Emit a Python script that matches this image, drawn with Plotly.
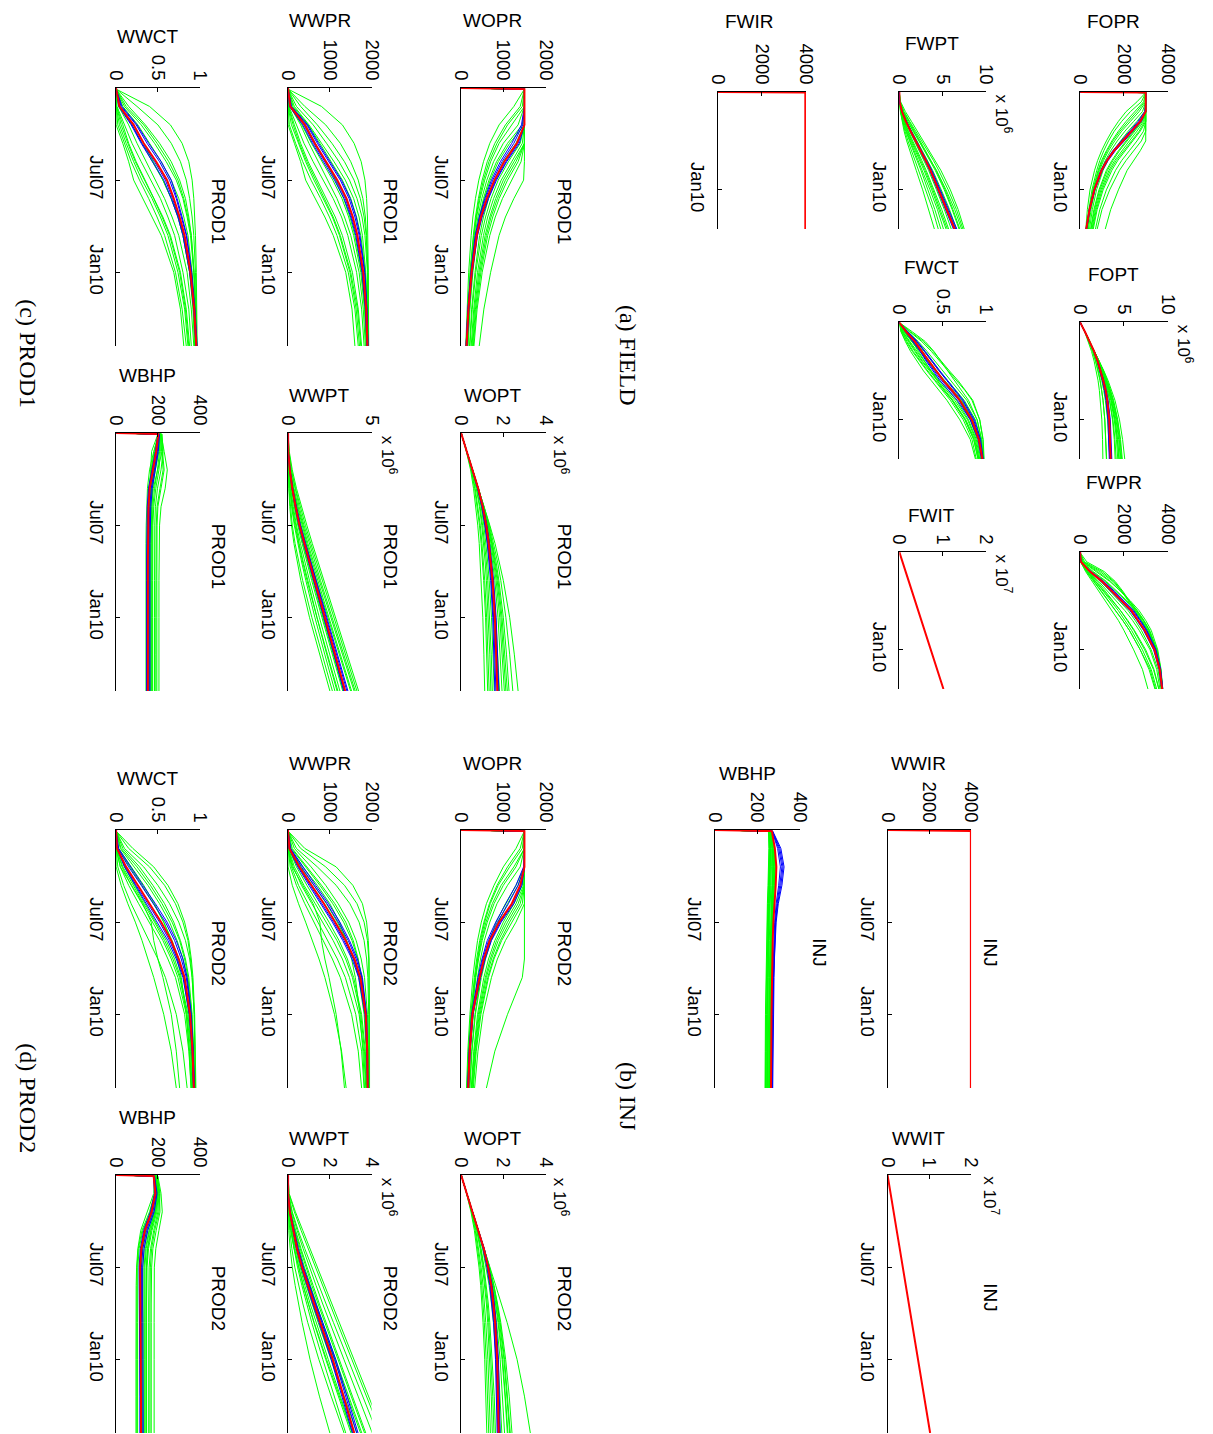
import plotly.graph_objects as go

W, H = 1213, 1434          # window / figure size
OFF = 0                    # body margin removed through post_script
FW, FH = W - OFF, H - OFF

# time grid (decimal years)
T = [2005.0, 2005.03, 2005.5, 2006.0, 2006.5, 2007.0, 2007.5, 2008.0, 2008.5, 2009.0, 2010.0, 2011.0, 2012.0]

# ---------------- (a) FIELD ----------------
FOPR_RED = [0, 3000, 3000, 3000, 2750, 2350, 1950, 1550, 1230, 980, 650, 430, 280]
FOPR_BLUE = [
    [0, 3000, 3000, 2950, 2650, 2250, 1870, 1490, 1190, 950, 630, 415, 270],
    [0, 3000, 3000, 3000, 2800, 2420, 2020, 1610, 1280, 1020, 680, 450, 295],
    [0, 3000, 3000, 3000, 2700, 2300, 1900, 1520, 1210, 960, 640, 420, 275],
    [0, 3000, 3000, 2980, 2780, 2400, 2000, 1580, 1250, 1000, 665, 440, 290],
]
FOPR_GREEN = [
    [0, 3000, 2600, 2100, 1750, 1450, 1200, 980, 800, 660, 450, 330, 260],
    [0, 3000, 2900, 2500, 2100, 1750, 1450, 1200, 980, 820, 580, 420, 320],
    [0, 3000, 3000, 2850, 2450, 2050, 1700, 1400, 1150, 950, 680, 500, 380],
    [0, 3000, 3000, 3000, 2800, 2450, 2100, 1750, 1450, 1200, 860, 630, 480],
    [0, 3000, 3000, 3000, 3000, 2750, 2400, 2050, 1720, 1450, 1050, 780, 600],
    [0, 3000, 3000, 3000, 3000, 3000, 2800, 2450, 2100, 1800, 1350, 1000, 780],
    [0, 3000, 3000, 3000, 3000, 3000, 3000, 2750, 2450, 2150, 1750, 1400, 1150],
    [0, 3000, 3000, 2950, 2600, 2200, 1850, 1530, 1260, 1050, 750, 560, 430],
    [0, 3000, 3000, 3000, 2900, 2600, 2250, 1900, 1580, 1320, 950, 700, 540],
    [0, 3000, 2800, 2300, 1900, 1560, 1300, 1080, 900, 760, 540, 400, 310],
    [0, 3000, 3000, 2700, 2300, 1900, 1580, 1300, 1070, 890, 620, 450, 340],
    [0, 3000, 3000, 3000, 2950, 2700, 2350, 1980, 1650, 1380, 1000, 740, 570],
    [0, 3000, 3000, 3000, 2850, 2500, 2150, 1800, 1500, 1250, 900, 660, 500],
    [0, 3000, 2950, 2600, 2200, 1820, 1500, 1240, 1020, 850, 600, 440, 330],
    [0, 3000, 3000, 3000, 3000, 2900, 2600, 2250, 1900, 1620, 1200, 900, 700],
]

FOPT_RED = [0, 0.01, 0.55, 1.1, 1.6, 2.0, 2.35, 2.65, 2.92, 3.1, 3.33, 3.42, 3.48]
FOPT_BLUE = [
    [0, 0.01, 0.55, 1.1, 1.58, 1.97, 2.3, 2.58, 2.83, 3.0, 3.22, 3.32, 3.38],
    [0, 0.01, 0.55, 1.1, 1.61, 2.03, 2.4, 2.72, 3.0, 3.2, 3.45, 3.56, 3.62],
    [0, 0.01, 0.55, 1.1, 1.6, 2.01, 2.37, 2.68, 2.95, 3.14, 3.38, 3.48, 3.54],
    [0, 0.01, 0.55, 1.09, 1.57, 1.95, 2.27, 2.54, 2.78, 2.96, 3.18, 3.28, 3.33],
]
FOPT_GREEN = [
    [0, 0.01, 0.52, 0.95, 1.3, 1.6, 1.85, 2.05, 2.2, 2.32, 2.48, 2.56, 2.6],
    [0, 0.01, 0.55, 1.05, 1.45, 1.8, 2.08, 2.3, 2.48, 2.62, 2.82, 2.94, 3.0],
    [0, 0.01, 0.55, 1.1, 1.6, 2.05, 2.45, 2.8, 3.1, 3.35, 3.7, 3.9, 4.0],
    [0, 0.01, 0.55, 1.1, 1.65, 2.15, 2.6, 3.0, 3.35, 3.65, 4.1, 4.4, 4.6],
    [0, 0.01, 0.55, 1.1, 1.65, 2.2, 2.72, 3.2, 3.62, 3.98, 4.5, 4.85, 5.1],
    [0, 0.01, 0.55, 1.1, 1.62, 2.1, 2.52, 2.9, 3.22, 3.5, 3.9, 4.15, 4.3],
    [0, 0.01, 0.55, 1.08, 1.55, 1.95, 2.28, 2.56, 2.8, 3.0, 3.28, 3.45, 3.55],
    [0, 0.01, 0.55, 1.1, 1.63, 2.12, 2.56, 2.95, 3.28, 3.56, 3.98, 4.25, 4.42],
    [0, 0.01, 0.54, 1.02, 1.42, 1.76, 2.04, 2.27, 2.46, 2.61, 2.82, 2.95, 3.03],
    [0, 0.01, 0.55, 1.1, 1.65, 2.18, 2.68, 3.12, 3.5, 3.82, 4.3, 4.62, 4.82],
    [0, 0.01, 0.55, 1.1, 1.64, 2.14, 2.58, 2.97, 3.3, 3.58, 4.0, 4.28, 4.48],
    [0, 0.01, 0.55, 1.1, 1.62, 2.08, 2.48, 2.83, 3.13, 3.38, 3.75, 3.98, 4.12],
    [0, 0.01, 0.55, 1.06, 1.5, 1.88, 2.2, 2.47, 2.7, 2.88, 3.14, 3.3, 3.4],
    [0, 0.01, 0.55, 1.1, 1.65, 2.17, 2.65, 3.08, 3.45, 3.77, 4.25, 4.56, 4.75],
    [0, 0.01, 0.55, 1.1, 1.64, 2.16, 2.63, 3.05, 3.41, 3.72, 4.18, 4.48, 4.66],
]

FWPR_RED = [0, 0, 30, 450, 1000, 1450, 1900, 2350, 2650, 2950, 3400, 3640, 3750]
FWPR_BLUE = [
    [0, 0, 30, 480, 1050, 1520, 1980, 2420, 2730, 3020, 3450, 3670, 3770],
    [0, 0, 30, 420, 950, 1400, 1840, 2280, 2600, 2900, 3360, 3610, 3730],
    [0, 0, 30, 500, 1080, 1560, 2020, 2460, 2760, 3050, 3470, 3680, 3780],
    [0, 0, 30, 440, 980, 1430, 1880, 2320, 2630, 2930, 3390, 3630, 3745],
]
FWPR_GREEN = [
    [0, 0, 300, 1100, 1600, 1950, 2250, 2550, 2850, 3100, 3450, 3650, 3750],
    [0, 0, 100, 700, 1350, 1850, 2300, 2700, 3000, 3250, 3550, 3700, 3780],
    [0, 0, 30, 300, 700, 1050, 1400, 1750, 2050, 2350, 2850, 3250, 3500],
    [0, 0, 20, 250, 550, 850, 1150, 1450, 1750, 2000, 2450, 2850, 3100],
    [0, 0, 40, 380, 850, 1250, 1650, 2050, 2400, 2700, 3200, 3500, 3650],
    [0, 0, 60, 550, 1150, 1650, 2100, 2500, 2800, 3100, 3500, 3680, 3760],
    [0, 0, 30, 350, 780, 1150, 1500, 1850, 2150, 2450, 2950, 3350, 3600],
    [0, 0, 80, 600, 1200, 1700, 2150, 2550, 2900, 3150, 3500, 3680, 3770],
    [0, 0, 30, 320, 650, 950, 1300, 1650, 1950, 2250, 2750, 3150, 3420],
    [0, 0, 150, 900, 1500, 1900, 2250, 2600, 2900, 3150, 3480, 3660, 3760],
    [0, 0, 50, 450, 950, 1380, 1800, 2200, 2520, 2800, 3250, 3560, 3700],
    [0, 0, 200, 1000, 1550, 1900, 2200, 2500, 2800, 3050, 3420, 3640, 3750],
    [0, 0, 20, 280, 620, 950, 1300, 1650, 1950, 2250, 2750, 3200, 3450],
    [0, 0, 120, 800, 1400, 1850, 2250, 2620, 2920, 3180, 3520, 3690, 3770],
    [0, 0, 30, 330, 720, 1100, 1480, 1850, 2180, 2480, 3000, 3380, 3600],
]

FWPT_RED = [0, 0, 0.03, 0.3, 0.75, 1.3, 1.9, 2.5, 3.05, 3.6, 4.55, 5.5, 6.4]
FWPT_BLUE = [
    [0, 0, 0.03, 0.32, 0.8, 1.38, 2.0, 2.62, 3.2, 3.77, 4.75, 5.72, 6.65],
    [0, 0, 0.03, 0.28, 0.72, 1.25, 1.83, 2.42, 2.96, 3.5, 4.43, 5.36, 6.25],
    [0, 0, 0.03, 0.31, 0.78, 1.34, 1.95, 2.56, 3.12, 3.68, 4.65, 5.6, 6.52],
    [0, 0, 0.03, 0.29, 0.74, 1.28, 1.87, 2.46, 3.0, 3.55, 4.5, 5.43, 6.33],
]
FWPT_GREEN = [
    [0, 0, 0.15, 0.7, 1.4, 2.1, 2.8, 3.5, 4.15, 4.8, 5.9, 6.8, 7.5],
    [0, 0, 0.05, 0.4, 0.95, 1.6, 2.3, 3.0, 3.65, 4.3, 5.4, 6.4, 7.2],
    [0, 0, 0.01, 0.15, 0.4, 0.75, 1.15, 1.6, 2.05, 2.5, 3.3, 4.1, 4.8],
    [0, 0, 0.01, 0.12, 0.3, 0.55, 0.85, 1.2, 1.55, 1.95, 2.7, 3.4, 4.05],
    [0, 0, 0.02, 0.22, 0.6, 1.05, 1.55, 2.1, 2.6, 3.1, 4.0, 4.9, 5.7],
    [0, 0, 0.08, 0.5, 1.1, 1.75, 2.4, 3.05, 3.65, 4.25, 5.3, 6.2, 7.0],
    [0, 0, 0.02, 0.18, 0.5, 0.9, 1.35, 1.85, 2.35, 2.85, 3.75, 4.6, 5.4],
    [0, 0, 0.04, 0.35, 0.85, 1.45, 2.05, 2.7, 3.3, 3.85, 4.85, 5.8, 6.6],
    [0, 0, 0.01, 0.14, 0.36, 0.65, 1.0, 1.4, 1.8, 2.25, 3.05, 3.85, 4.5],
    [0, 0, 0.03, 0.26, 0.68, 1.18, 1.74, 2.3, 2.85, 3.38, 4.3, 5.2, 6.0],
    [0, 0, 0.03, 0.3, 0.78, 1.35, 1.95, 2.55, 3.12, 3.68, 4.68, 5.62, 6.5],
    [0, 0, 0.1, 0.55, 1.2, 1.9, 2.6, 3.3, 3.95, 4.55, 5.65, 6.6, 7.35],
    [0, 0, 0.01, 0.16, 0.45, 0.82, 1.25, 1.72, 2.2, 2.68, 3.55, 4.4, 5.1],
    [0, 0, 0.06, 0.45, 1.0, 1.65, 2.3, 2.95, 3.55, 4.15, 5.2, 6.1, 6.9],
    [0, 0, 0.02, 0.2, 0.55, 0.98, 1.45, 1.97, 2.48, 2.98, 3.88, 4.75, 5.55],
]

FWCT_RED = [0, 0, 0.08, 0.18, 0.26, 0.34, 0.42, 0.51, 0.61, 0.7, 0.84, 0.92, 0.96]
FWCT_BLUE = [
    [0, 0, 0.09, 0.2, 0.29, 0.37, 0.46, 0.55, 0.64, 0.73, 0.86, 0.93, 0.96],
    [0, 0, 0.07, 0.16, 0.24, 0.31, 0.39, 0.47, 0.57, 0.67, 0.82, 0.91, 0.95],
    [0, 0, 0.1, 0.21, 0.3, 0.38, 0.47, 0.56, 0.65, 0.74, 0.87, 0.94, 0.97],
    [0, 0, 0.08, 0.17, 0.25, 0.32, 0.4, 0.49, 0.59, 0.69, 0.83, 0.92, 0.955],
]
FWCT_GREEN = [
    [0, 0, 0.15, 0.3, 0.4, 0.48, 0.56, 0.64, 0.72, 0.8, 0.9, 0.95, 0.97],
    [0, 0, 0.03, 0.1, 0.18, 0.26, 0.35, 0.44, 0.53, 0.62, 0.77, 0.87, 0.92],
    [0, 0, 0.02, 0.07, 0.13, 0.2, 0.28, 0.37, 0.46, 0.55, 0.7, 0.82, 0.88],
    [0, 0, 0.05, 0.14, 0.23, 0.32, 0.42, 0.52, 0.62, 0.71, 0.85, 0.93, 0.96],
    [0, 0, 0.12, 0.26, 0.37, 0.47, 0.57, 0.67, 0.76, 0.84, 0.93, 0.97, 0.98],
    [0, 0, 0.06, 0.15, 0.22, 0.29, 0.36, 0.44, 0.52, 0.61, 0.76, 0.86, 0.91],
    [0, 0, 0.1, 0.22, 0.32, 0.41, 0.5, 0.6, 0.69, 0.78, 0.9, 0.95, 0.97],
    [0, 0, 0.04, 0.12, 0.2, 0.28, 0.37, 0.47, 0.57, 0.66, 0.8, 0.89, 0.93],
    [0, 0, 0.08, 0.19, 0.27, 0.34, 0.43, 0.53, 0.63, 0.72, 0.85, 0.92, 0.95],
    [0, 0, 0.02, 0.08, 0.15, 0.23, 0.32, 0.41, 0.5, 0.59, 0.74, 0.84, 0.89],
    [0, 0, 0.09, 0.2, 0.29, 0.37, 0.46, 0.56, 0.66, 0.75, 0.88, 0.94, 0.965],
    [0, 0, 0.04, 0.11, 0.19, 0.27, 0.36, 0.45, 0.55, 0.64, 0.79, 0.88, 0.92],
    [0, 0, 0.13, 0.28, 0.39, 0.48, 0.58, 0.68, 0.77, 0.85, 0.93, 0.965, 0.975],
    [0, 0, 0.06, 0.16, 0.25, 0.33, 0.42, 0.51, 0.6, 0.69, 0.82, 0.9, 0.94],
    [0, 0, 0.03, 0.09, 0.16, 0.24, 0.33, 0.42, 0.52, 0.61, 0.76, 0.86, 0.91],
]

FWIT_RED = [0, 0.004, 0.073, 0.146, 0.219, 0.292, 0.365, 0.438, 0.511, 0.584, 0.73, 0.876, 1.02]
FWIR_RED = [0, 3970, 3970, 3970, 3970, 3970, 3970, 3970, 3970, 3970, 3970, 3970, 3970]

# ---------------- (b) INJ ----------------
INJ_WWIR_RED = [0, 3990, 3990, 3990, 3990, 3990, 3990, 3990, 3990, 3990, 3990, 3990, 3990]
INJ_WWIT_RED = [0, 0.004, 0.073, 0.146, 0.219, 0.292, 0.365, 0.438, 0.511, 0.584, 0.73, 0.876, 1.02]
INJ_WBHP_RED = [0, 268, 282, 289, 286, 280, 275, 272, 270, 268, 266, 265, 264]
INJ_WBHP_BLUE = [
    [0, 270, 300, 315, 305, 292, 284, 280, 277, 275, 272, 270, 269],
    [0, 272, 310, 325, 315, 298, 288, 283, 280, 278, 275, 273, 272],
    [0, 269, 295, 308, 300, 288, 281, 277, 274, 272, 270, 268, 267],
    [0, 271, 305, 320, 310, 295, 286, 282, 279, 276, 273, 271, 270],
]
INJ_WBHP_GREEN = [
    [0, 262, 268, 270, 268, 265, 262, 260, 258, 257, 255, 254, 253],
    [0, 258, 262, 262, 260, 257, 255, 253, 252, 251, 249, 248, 247],
    [0, 265, 275, 278, 275, 271, 268, 266, 264, 263, 261, 260, 259],
    [0, 255, 258, 257, 255, 252, 250, 248, 246, 245, 243, 242, 241],
    [0, 268, 280, 284, 280, 275, 272, 270, 268, 266, 264, 263, 262],
    [0, 260, 265, 266, 263, 260, 258, 256, 255, 254, 252, 251, 250],
    [0, 263, 271, 274, 271, 268, 265, 263, 261, 260, 258, 257, 256],
    [0, 252, 254, 253, 250, 247, 245, 243, 241, 240, 238, 237, 236],
    [0, 266, 278, 282, 278, 274, 271, 268, 266, 265, 263, 262, 261],
    [0, 257, 260, 260, 258, 255, 253, 251, 250, 249, 247, 246, 245],
    [0, 261, 270, 273, 270, 267, 264, 262, 260, 259, 257, 256, 255],
    [0, 256, 260, 259, 257, 254, 252, 250, 249, 248, 246, 245, 244],
    [0, 267, 279, 283, 279, 274, 270, 268, 266, 264, 262, 261, 260],
    [0, 254, 256, 255, 252, 249, 247, 245, 243, 242, 240, 239, 238],
    [0, 264, 273, 276, 273, 270, 267, 265, 263, 262, 260, 259, 258],
]

# ---------------- (c) PROD1 ----------------
P1_WOPR_RED = [0, 1500, 1500, 1500, 1320, 1020, 790, 610, 470, 370, 250, 175, 130]
P1_WOPR_BLUE = [
    [0, 1500, 1500, 1460, 1250, 970, 750, 580, 450, 350, 240, 165, 120],
    [0, 1500, 1500, 1500, 1380, 1080, 840, 650, 500, 390, 265, 185, 140],
    [0, 1500, 1500, 1430, 1200, 930, 720, 560, 430, 335, 230, 160, 118],
    [0, 1500, 1500, 1500, 1350, 1060, 820, 630, 485, 380, 258, 180, 136],
]
P1_WOPR_GREEN = [
    [0, 1500, 1250, 900, 680, 530, 420, 340, 280, 240, 180, 140, 110],
    [0, 1500, 1500, 1200, 900, 700, 560, 450, 370, 310, 230, 170, 130],
    [0, 1500, 1500, 1500, 1150, 880, 690, 550, 450, 380, 280, 210, 165],
    [0, 1500, 1500, 1500, 1450, 1200, 950, 770, 630, 530, 390, 300, 240],
    [0, 1500, 1500, 1500, 1500, 1350, 1100, 900, 750, 630, 470, 360, 290],
    [0, 1500, 1500, 1500, 1500, 1500, 1480, 1250, 1050, 900, 700, 540, 430],
    [0, 1500, 1500, 1500, 1300, 1000, 800, 650, 530, 440, 330, 250, 200],
    [0, 1500, 1500, 1350, 1000, 770, 610, 490, 400, 330, 240, 180, 140],
    [0, 1500, 1500, 1500, 1500, 1250, 1000, 820, 680, 570, 420, 320, 260],
    [0, 1500, 1400, 1050, 800, 620, 500, 410, 340, 290, 210, 160, 120],
    [0, 1500, 1500, 1500, 1400, 1120, 880, 710, 580, 480, 350, 265, 210],
    [0, 1500, 1500, 1450, 1100, 840, 660, 530, 430, 360, 265, 200, 155],
    [0, 1500, 1500, 1500, 1500, 1420, 1200, 980, 810, 680, 500, 380, 305],
    [0, 1500, 1450, 1100, 850, 660, 530, 430, 355, 300, 220, 165, 125],
    [0, 1500, 1500, 1500, 1500, 1300, 1050, 860, 710, 600, 445, 340, 275],
]

P1_WOPT_RED = [0, 0.02, 0.27, 0.55, 0.81, 1.03, 1.19, 1.31, 1.41, 1.49, 1.6, 1.67, 1.72]
P1_WOPT_BLUE = [
    [0, 0.02, 0.27, 0.54, 0.79, 1.0, 1.15, 1.27, 1.36, 1.44, 1.54, 1.6, 1.65],
    [0, 0.02, 0.27, 0.55, 0.82, 1.05, 1.22, 1.35, 1.46, 1.54, 1.66, 1.74, 1.79],
    [0, 0.02, 0.27, 0.54, 0.78, 0.98, 1.13, 1.24, 1.33, 1.4, 1.5, 1.56, 1.6],
    [0, 0.02, 0.27, 0.55, 0.81, 1.04, 1.21, 1.33, 1.44, 1.52, 1.63, 1.7, 1.76],
]
P1_WOPT_GREEN = [
    [0, 0.02, 0.25, 0.45, 0.59, 0.7, 0.79, 0.86, 0.91, 0.96, 1.03, 1.08, 1.12],
    [0, 0.02, 0.27, 0.52, 0.72, 0.87, 0.98, 1.07, 1.14, 1.2, 1.29, 1.36, 1.41],
    [0, 0.02, 0.27, 0.55, 0.79, 0.98, 1.13, 1.25, 1.35, 1.43, 1.55, 1.64, 1.71],
    [0, 0.02, 0.27, 0.55, 0.82, 1.06, 1.26, 1.42, 1.55, 1.66, 1.83, 1.95, 2.05],
    [0, 0.02, 0.27, 0.55, 0.82, 1.08, 1.31, 1.5, 1.66, 1.79, 2.0, 2.15, 2.27],
    [0, 0.02, 0.27, 0.55, 0.82, 1.09, 1.36, 1.61, 1.82, 2.0, 2.3, 2.52, 2.7],
    [0, 0.02, 0.27, 0.55, 0.8, 1.01, 1.17, 1.3, 1.41, 1.5, 1.64, 1.74, 1.82],
    [0, 0.02, 0.27, 0.53, 0.74, 0.9, 1.02, 1.12, 1.2, 1.26, 1.36, 1.43, 1.48],
    [0, 0.02, 0.27, 0.55, 0.82, 1.07, 1.28, 1.45, 1.59, 1.71, 1.89, 2.02, 2.12],
    [0, 0.02, 0.26, 0.48, 0.64, 0.77, 0.87, 0.95, 1.02, 1.07, 1.16, 1.22, 1.26],
    [0, 0.02, 0.27, 0.55, 0.81, 1.04, 1.23, 1.38, 1.5, 1.6, 1.75, 1.86, 1.94],
    [0, 0.02, 0.27, 0.55, 0.78, 0.95, 1.08, 1.18, 1.26, 1.33, 1.44, 1.51, 1.57],
    [0, 0.02, 0.27, 0.55, 0.82, 1.09, 1.34, 1.55, 1.73, 1.88, 2.12, 2.3, 2.45],
    [0, 0.02, 0.26, 0.49, 0.67, 0.8, 0.91, 0.99, 1.06, 1.12, 1.21, 1.28, 1.33],
    [0, 0.02, 0.27, 0.55, 0.82, 1.07, 1.29, 1.47, 1.62, 1.75, 1.94, 2.08, 2.19],
]

P1_WWPR_RED = [0, 0, 50, 400, 640, 910, 1180, 1400, 1550, 1660, 1800, 1870, 1900]
P1_WWPR_BLUE = [
    [0, 0, 70, 450, 700, 980, 1250, 1460, 1600, 1700, 1830, 1885, 1910],
    [0, 0, 30, 350, 580, 850, 1110, 1340, 1500, 1620, 1770, 1850, 1885],
    [0, 0, 80, 470, 730, 1010, 1280, 1490, 1630, 1720, 1840, 1890, 1915],
    [0, 0, 40, 380, 610, 880, 1150, 1370, 1520, 1640, 1785, 1860, 1892],
]
P1_WWPR_GREEN = [
    [0, 0, 800, 1300, 1580, 1750, 1840, 1880, 1900, 1910, 1920, 1925, 1930],
    [0, 0, 300, 700, 1050, 1350, 1580, 1730, 1820, 1870, 1910, 1920, 1925],
    [0, 0, 150, 500, 800, 1100, 1370, 1570, 1700, 1780, 1860, 1900, 1910],
    [0, 0, 20, 200, 380, 600, 850, 1080, 1280, 1430, 1640, 1760, 1820],
    [0, 0, 0, 0, 150, 300, 420, 650, 880, 1080, 1380, 1530, 1600],
    [0, 0, 10, 150, 300, 480, 700, 930, 1130, 1300, 1540, 1680, 1760],
    [0, 0, 100, 420, 650, 900, 1130, 1330, 1480, 1600, 1760, 1840, 1880],
    [0, 0, 50, 300, 500, 720, 950, 1170, 1350, 1500, 1700, 1800, 1850],
    [0, 0, 200, 600, 920, 1220, 1470, 1650, 1770, 1840, 1900, 1915, 1920],
    [0, 0, 0, 80, 250, 420, 620, 850, 1060, 1230, 1480, 1630, 1710],
    [0, 0, 400, 900, 1250, 1500, 1680, 1790, 1850, 1880, 1910, 1920, 1925],
    [0, 0, 0, 30, 180, 350, 550, 780, 990, 1170, 1440, 1600, 1680],
    [0, 0, 60, 330, 560, 820, 1070, 1290, 1450, 1570, 1740, 1830, 1870],
    [0, 0, 5, 120, 270, 450, 660, 880, 1080, 1250, 1500, 1660, 1740],
    [0, 0, 120, 480, 760, 1040, 1300, 1500, 1640, 1740, 1850, 1895, 1910],
]

P1_WWPT_RED = [0, 0, 0.01, 0.1, 0.25, 0.45, 0.68, 0.98, 1.28, 1.58, 2.2, 2.82, 3.42]
P1_WWPT_BLUE = [
    [0, 0, 0.01, 0.11, 0.27, 0.48, 0.72, 1.02, 1.33, 1.64, 2.27, 2.9, 3.52],
    [0, 0, 0.01, 0.09, 0.23, 0.42, 0.64, 0.93, 1.22, 1.52, 2.13, 2.74, 3.33],
    [0, 0, 0.01, 0.12, 0.28, 0.5, 0.74, 1.05, 1.36, 1.67, 2.31, 2.95, 3.58],
    [0, 0, 0.01, 0.095, 0.24, 0.44, 0.66, 0.95, 1.25, 1.55, 2.16, 2.78, 3.38],
]
P1_WWPT_GREEN = [
    [0, 0, 0.07, 0.25, 0.5, 0.8, 1.12, 1.45, 1.8, 2.14, 2.84, 3.53, 4.22],
    [0, 0, 0.03, 0.15, 0.35, 0.6, 0.88, 1.19, 1.52, 1.86, 2.55, 3.25, 3.95],
    [0, 0, 0.02, 0.12, 0.3, 0.52, 0.78, 1.07, 1.38, 1.7, 2.37, 3.05, 3.74],
    [0, 0, 0.005, 0.05, 0.13, 0.26, 0.44, 0.66, 0.91, 1.17, 1.73, 2.35, 2.98],
    [0, 0, 0, 0.01, 0.05, 0.13, 0.25, 0.42, 0.63, 0.87, 1.42, 2.02, 2.65],
    [0, 0, 0.01, 0.06, 0.16, 0.31, 0.5, 0.74, 1.0, 1.28, 1.87, 2.48, 3.1],
    [0, 0, 0.01, 0.1, 0.24, 0.43, 0.65, 0.93, 1.22, 1.52, 2.13, 2.75, 3.37],
    [0, 0, 0.01, 0.08, 0.2, 0.37, 0.58, 0.84, 1.12, 1.41, 2.02, 2.64, 3.27],
    [0, 0, 0.04, 0.18, 0.4, 0.66, 0.95, 1.27, 1.6, 1.94, 2.63, 3.32, 4.02],
    [0, 0, 0, 0.03, 0.1, 0.21, 0.37, 0.58, 0.81, 1.06, 1.6, 2.19, 2.8],
    [0, 0, 0.05, 0.2, 0.44, 0.72, 1.03, 1.36, 1.7, 2.04, 2.73, 3.43, 4.12],
    [0, 0, 0, 0.01, 0.04, 0.1, 0.2, 0.35, 0.54, 0.76, 1.28, 1.87, 2.5],
    [0, 0, 0.01, 0.09, 0.22, 0.4, 0.61, 0.88, 1.17, 1.47, 2.08, 2.7, 3.32],
    [0, 0, 0, 0.04, 0.12, 0.24, 0.41, 0.63, 0.87, 1.13, 1.7, 2.31, 2.93],
    [0, 0, 0.02, 0.13, 0.32, 0.56, 0.83, 1.13, 1.45, 1.77, 2.44, 3.12, 3.8],
]

P1_WWCT_RED = [0, 0, 0.04, 0.21, 0.33, 0.48, 0.61, 0.69, 0.76, 0.82, 0.89, 0.935, 0.96]
P1_WWCT_BLUE = [
    [0, 0, 0.06, 0.24, 0.37, 0.52, 0.64, 0.72, 0.78, 0.84, 0.9, 0.94, 0.965],
    [0, 0, 0.03, 0.18, 0.3, 0.44, 0.57, 0.66, 0.74, 0.8, 0.88, 0.93, 0.955],
    [0, 0, 0.07, 0.25, 0.39, 0.54, 0.66, 0.73, 0.79, 0.845, 0.905, 0.945, 0.97],
    [0, 0, 0.04, 0.19, 0.31, 0.46, 0.59, 0.675, 0.75, 0.81, 0.885, 0.932, 0.958],
]
P1_WWCT_GREEN = [
    [0, 0, 0.4, 0.65, 0.79, 0.87, 0.91, 0.93, 0.94, 0.95, 0.96, 0.965, 0.97],
    [0, 0, 0.15, 0.35, 0.52, 0.66, 0.76, 0.83, 0.87, 0.9, 0.93, 0.95, 0.96],
    [0, 0, 0.08, 0.26, 0.4, 0.54, 0.66, 0.75, 0.81, 0.86, 0.91, 0.94, 0.955],
    [0, 0, 0.01, 0.1, 0.19, 0.3, 0.42, 0.53, 0.62, 0.7, 0.8, 0.87, 0.9],
    [0, 0, 0, 0, 0.08, 0.15, 0.21, 0.32, 0.44, 0.54, 0.69, 0.77, 0.81],
    [0, 0, 0.005, 0.08, 0.15, 0.24, 0.35, 0.46, 0.56, 0.65, 0.77, 0.84, 0.88],
    [0, 0, 0.05, 0.21, 0.33, 0.45, 0.56, 0.66, 0.74, 0.8, 0.88, 0.92, 0.94],
    [0, 0, 0.03, 0.15, 0.25, 0.36, 0.48, 0.58, 0.67, 0.75, 0.85, 0.9, 0.93],
    [0, 0, 0.1, 0.3, 0.46, 0.6, 0.72, 0.8, 0.85, 0.89, 0.93, 0.95, 0.96],
    [0, 0, 0, 0.04, 0.12, 0.21, 0.31, 0.43, 0.53, 0.62, 0.74, 0.82, 0.86],
    [0, 0, 0.25, 0.5, 0.66, 0.77, 0.84, 0.88, 0.91, 0.93, 0.95, 0.96, 0.965],
    [0, 0, 0, 0.02, 0.1, 0.18, 0.28, 0.39, 0.49, 0.58, 0.71, 0.79, 0.84],
    [0, 0, 0.04, 0.19, 0.31, 0.44, 0.56, 0.66, 0.74, 0.8, 0.88, 0.925, 0.945],
    [0, 0, 0.005, 0.06, 0.14, 0.23, 0.34, 0.45, 0.55, 0.64, 0.76, 0.83, 0.87],
    [0, 0, 0.12, 0.33, 0.49, 0.63, 0.74, 0.81, 0.86, 0.9, 0.935, 0.955, 0.965],
]

P1_WBHP_RED = [0, 202, 192, 176, 161, 155, 153, 152, 152, 152, 152, 152, 152]
P1_WBHP_BLUE = [
    [0, 205, 198, 182, 168, 161, 158, 157, 157, 157, 157, 157, 157],
    [0, 200, 188, 170, 155, 149, 147, 146, 146, 146, 146, 146, 146],
    [0, 208, 202, 188, 173, 166, 163, 162, 162, 162, 162, 162, 162],
    [0, 203, 190, 173, 158, 152, 150, 149, 149, 149, 149, 149, 149],
]
P1_WBHP_GREEN = [
    [0, 215, 230, 245, 235, 215, 208, 206, 205, 205, 205, 205, 205],
    [0, 210, 212, 205, 190, 180, 176, 175, 175, 175, 175, 175, 175],
    [0, 205, 180, 160, 150, 146, 144, 143, 143, 143, 143, 143, 143],
    [0, 220, 225, 215, 198, 188, 185, 184, 184, 184, 184, 184, 184],
    [0, 200, 170, 165, 168, 165, 163, 162, 162, 162, 162, 162, 162],
    [0, 212, 218, 225, 210, 196, 192, 191, 190, 190, 190, 190, 190],
    [0, 207, 196, 180, 166, 160, 158, 157, 157, 157, 157, 157, 157],
    [0, 218, 220, 200, 178, 170, 168, 167, 167, 167, 167, 167, 167],
    [0, 203, 185, 168, 156, 151, 149, 148, 148, 148, 148, 148, 148],
    [0, 214, 205, 188, 175, 170, 168, 167, 168, 168, 168, 168, 168],
    [0, 209, 208, 198, 184, 176, 173, 172, 172, 172, 172, 172, 172],
    [0, 201, 182, 168, 158, 153, 151, 150, 150, 150, 150, 150, 150],
    [0, 216, 222, 230, 215, 200, 196, 195, 195, 195, 195, 195, 195],
    [0, 206, 194, 178, 165, 159, 157, 156, 156, 156, 156, 156, 156],
    [0, 212, 200, 184, 170, 164, 162, 161, 161, 161, 161, 161, 161],
]

# ---------------- (d) PROD2 ----------------
P2_WOPR_RED = [0, 1500, 1500, 1500, 1400, 1200, 900, 680, 540, 440, 270, 205, 170]
P2_WOPR_BLUE = [
    [0, 1500, 1500, 1500, 1350, 1120, 860, 650, 515, 420, 260, 195, 160],
    [0, 1500, 1500, 1500, 1440, 1250, 950, 720, 570, 460, 285, 215, 178],
    [0, 1500, 1500, 1480, 1300, 1060, 820, 620, 495, 400, 250, 190, 155],
    [0, 1500, 1500, 1500, 1420, 1220, 930, 700, 555, 452, 278, 210, 174],
]
P2_WOPR_GREEN = [
    [0, 1500, 1300, 1000, 780, 600, 480, 390, 330, 280, 210, 160, 130],
    [0, 1500, 1500, 1250, 950, 740, 590, 480, 400, 340, 250, 190, 150],
    [0, 1500, 1500, 1500, 1500, 1500, 1500, 1500, 1500, 1450, 1100, 800, 600],
    [0, 1500, 1500, 1500, 1300, 1050, 830, 670, 550, 460, 330, 250, 200],
    [0, 1500, 1500, 1500, 1500, 1350, 1100, 880, 720, 600, 430, 330, 260],
    [0, 1500, 1500, 1500, 1500, 1500, 1300, 1050, 860, 720, 520, 400, 320],
    [0, 1500, 1500, 1400, 1100, 850, 680, 550, 460, 390, 290, 220, 175],
    [0, 1500, 1500, 1500, 1450, 1250, 1000, 800, 650, 540, 390, 300, 240],
    [0, 1500, 1450, 1150, 880, 690, 560, 460, 390, 330, 240, 180, 145],
    [0, 1500, 1500, 1500, 1500, 1450, 1200, 960, 780, 650, 470, 360, 290],
    [0, 1500, 1500, 1500, 1350, 1100, 880, 710, 580, 480, 340, 260, 210],
    [0, 1500, 1500, 1300, 1000, 780, 620, 500, 415, 350, 255, 195, 155],
    [0, 1500, 1500, 1500, 1500, 1400, 1150, 930, 760, 630, 450, 345, 275],
    [0, 1500, 1400, 1100, 850, 670, 540, 440, 370, 315, 230, 175, 140],
    [0, 1500, 1500, 1500, 1480, 1300, 1050, 840, 690, 575, 410, 315, 250],
]

P2_WOPT_RED = [0, 0.02, 0.27, 0.55, 0.82, 1.08, 1.28, 1.43, 1.53, 1.61, 1.71, 1.75, 1.78]
P2_WOPT_BLUE = [
    [0, 0.02, 0.27, 0.55, 0.81, 1.06, 1.25, 1.39, 1.49, 1.57, 1.66, 1.71, 1.74],
    [0, 0.02, 0.27, 0.55, 0.83, 1.1, 1.31, 1.47, 1.58, 1.66, 1.77, 1.82, 1.85],
    [0, 0.02, 0.27, 0.55, 0.8, 1.04, 1.22, 1.36, 1.46, 1.54, 1.63, 1.68, 1.71],
    [0, 0.02, 0.27, 0.55, 0.82, 1.09, 1.3, 1.45, 1.56, 1.64, 1.74, 1.79, 1.82],
]
P2_WOPT_GREEN = [
    [0, 0.02, 0.26, 0.47, 0.63, 0.75, 0.85, 0.93, 0.99, 1.04, 1.12, 1.18, 1.22],
    [0, 0.02, 0.27, 0.53, 0.74, 0.9, 1.02, 1.12, 1.2, 1.26, 1.36, 1.43, 1.48],
    [0, 0.02, 0.27, 0.55, 0.82, 1.09, 1.36, 1.64, 1.91, 2.18, 2.65, 3.0, 3.28],
    [0, 0.02, 0.27, 0.55, 0.81, 1.02, 1.19, 1.33, 1.44, 1.53, 1.67, 1.77, 1.85],
    [0, 0.02, 0.27, 0.55, 0.82, 1.08, 1.3, 1.48, 1.63, 1.75, 1.94, 2.08, 2.19],
    [0, 0.02, 0.27, 0.55, 0.82, 1.09, 1.35, 1.56, 1.73, 1.88, 2.11, 2.28, 2.41],
    [0, 0.02, 0.27, 0.54, 0.77, 0.95, 1.09, 1.2, 1.29, 1.36, 1.48, 1.57, 1.63],
    [0, 0.02, 0.27, 0.55, 0.82, 1.07, 1.27, 1.44, 1.57, 1.68, 1.85, 1.97, 2.06],
    [0, 0.02, 0.27, 0.51, 0.7, 0.84, 0.95, 1.04, 1.11, 1.17, 1.27, 1.34, 1.39],
    [0, 0.02, 0.27, 0.55, 0.82, 1.09, 1.33, 1.53, 1.69, 1.82, 2.03, 2.18, 2.3],
    [0, 0.02, 0.27, 0.55, 0.81, 1.05, 1.24, 1.39, 1.51, 1.61, 1.75, 1.85, 1.93],
    [0, 0.02, 0.27, 0.54, 0.76, 0.93, 1.06, 1.16, 1.24, 1.31, 1.42, 1.5, 1.56],
    [0, 0.02, 0.27, 0.55, 0.82, 1.09, 1.34, 1.55, 1.71, 1.85, 2.06, 2.21, 2.33],
    [0, 0.02, 0.26, 0.49, 0.67, 0.8, 0.9, 0.98, 1.05, 1.1, 1.19, 1.26, 1.31],
    [0, 0.02, 0.27, 0.55, 0.82, 1.08, 1.31, 1.5, 1.65, 1.78, 1.97, 2.11, 2.22],
]

P2_WWPR_RED = [0, 0, 30, 270, 560, 860, 1130, 1380, 1590, 1730, 1860, 1895, 1905]
P2_WWPR_BLUE = [
    [0, 0, 50, 320, 620, 930, 1200, 1440, 1630, 1760, 1875, 1900, 1910],
    [0, 0, 20, 230, 500, 790, 1060, 1310, 1530, 1690, 1840, 1885, 1900],
    [0, 0, 60, 350, 660, 970, 1240, 1470, 1660, 1780, 1880, 1905, 1915],
    [0, 0, 25, 250, 530, 820, 1090, 1340, 1560, 1710, 1850, 1890, 1902],
]
P2_WWPR_GREEN = [
    [0, 0, 400, 1150, 1550, 1780, 1880, 1920, 1940, 1945, 1950, 1950, 1950],
    [0, 0, 200, 700, 1150, 1480, 1700, 1820, 1880, 1910, 1930, 1940, 1940],
    [0, 0, 0, 0, 100, 250, 420, 580, 740, 880, 1110, 1280, 1390],
    [0, 0, 0, 100, 350, 600, 760, 800, 880, 980, 1150, 1270, 1350],
    [0, 0, 100, 450, 800, 1120, 1380, 1560, 1680, 1760, 1850, 1890, 1900],
    [0, 0, 10, 150, 380, 650, 920, 1170, 1380, 1540, 1740, 1830, 1870],
    [0, 0, 50, 350, 700, 1000, 1230, 1400, 1520, 1610, 1720, 1790, 1830],
    [0, 0, 20, 200, 450, 720, 980, 1220, 1420, 1570, 1760, 1850, 1880],
    [0, 0, 150, 550, 900, 1200, 1450, 1630, 1750, 1830, 1900, 1925, 1930],
    [0, 0, 0, 80, 250, 480, 720, 960, 1180, 1370, 1620, 1760, 1820],
    [0, 0, 300, 900, 1350, 1650, 1820, 1900, 1930, 1940, 1945, 1945, 1945],
    [0, 0, 0, 50, 200, 400, 620, 850, 1060, 1250, 1520, 1680, 1760],
    [0, 0, 40, 300, 620, 920, 1180, 1400, 1570, 1690, 1820, 1870, 1890],
    [0, 0, 5, 120, 320, 570, 830, 1080, 1300, 1470, 1700, 1810, 1860],
    [0, 0, 80, 420, 760, 1070, 1330, 1530, 1670, 1760, 1860, 1900, 1910],
]

P2_WWPT_RED = [0, 0, 0, 0.08, 0.24, 0.43, 0.67, 0.95, 1.24, 1.54, 2.14, 2.66, 3.17]
P2_WWPT_BLUE = [
    [0, 0, 0, 0.09, 0.26, 0.46, 0.71, 1.0, 1.3, 1.61, 2.23, 2.76, 3.28],
    [0, 0, 0, 0.07, 0.22, 0.4, 0.63, 0.9, 1.18, 1.48, 2.06, 2.57, 3.08],
    [0, 0, 0, 0.1, 0.28, 0.49, 0.74, 1.03, 1.34, 1.66, 2.28, 2.82, 3.35],
    [0, 0, 0, 0.075, 0.23, 0.42, 0.65, 0.92, 1.21, 1.51, 2.1, 2.62, 3.13],
]
P2_WWPT_GREEN = [
    [0, 0, 0.05, 0.35, 0.7, 1.05, 1.4, 1.75, 2.1, 2.45, 3.15, 3.85, 4.55],
    [0, 0, 0.02, 0.2, 0.48, 0.8, 1.13, 1.47, 1.82, 2.17, 2.87, 3.57, 4.27],
    [0, 0, 0, 0, 0.03, 0.1, 0.2, 0.34, 0.5, 0.67, 1.05, 1.5, 2.0],
    [0, 0, 0, 0.03, 0.12, 0.27, 0.45, 0.66, 0.89, 1.13, 1.66, 2.21, 2.76],
    [0, 0, 0.01, 0.14, 0.36, 0.62, 0.9, 1.2, 1.5, 1.81, 2.44, 3.08, 3.72],
    [0, 0, 0, 0.05, 0.18, 0.35, 0.56, 0.8, 1.06, 1.34, 1.92, 2.5, 3.08],
    [0, 0, 0, 0.1, 0.3, 0.53, 0.78, 1.06, 1.35, 1.65, 2.27, 2.9, 3.53],
    [0, 0, 0, 0.06, 0.2, 0.39, 0.61, 0.87, 1.15, 1.44, 2.05, 2.67, 3.3],
    [0, 0, 0.02, 0.18, 0.43, 0.72, 1.02, 1.34, 1.66, 1.99, 2.67, 3.35, 4.03],
    [0, 0, 0, 0.04, 0.15, 0.3, 0.5, 0.73, 0.97, 1.23, 1.8, 2.4, 3.01],
    [0, 0, 0.04, 0.3, 0.62, 0.96, 1.3, 1.65, 2.0, 2.35, 3.05, 3.75, 4.45],
    [0, 0, 0, 0.02, 0.08, 0.18, 0.32, 0.5, 0.71, 0.94, 1.47, 2.06, 2.68],
    [0, 0, 0, 0.08, 0.26, 0.47, 0.72, 1.0, 1.29, 1.59, 2.21, 2.84, 3.47],
    [0, 0, 0, 0.04, 0.14, 0.29, 0.49, 0.72, 0.98, 1.25, 1.84, 2.45, 3.07],
    [0, 0, 0.01, 0.12, 0.33, 0.58, 0.85, 1.14, 1.44, 1.75, 2.38, 3.02, 3.66],
]

P2_WWCT_RED = [0, 0, 0.01, 0.12, 0.26, 0.4, 0.54, 0.66, 0.75, 0.82, 0.885, 0.915, 0.93]
P2_WWCT_BLUE = [
    [0, 0, 0.02, 0.15, 0.3, 0.45, 0.59, 0.7, 0.78, 0.84, 0.895, 0.92, 0.935],
    [0, 0, 0.01, 0.1, 0.23, 0.36, 0.5, 0.62, 0.72, 0.8, 0.875, 0.91, 0.925],
    [0, 0, 0.03, 0.17, 0.32, 0.47, 0.61, 0.72, 0.8, 0.85, 0.9, 0.925, 0.94],
    [0, 0, 0.01, 0.11, 0.24, 0.38, 0.52, 0.64, 0.735, 0.81, 0.88, 0.912, 0.928],
]
P2_WWCT_GREEN = [
    [0, 0, 0.2, 0.45, 0.62, 0.74, 0.82, 0.87, 0.9, 0.92, 0.94, 0.95, 0.955],
    [0, 0, 0.1, 0.33, 0.5, 0.64, 0.75, 0.83, 0.88, 0.91, 0.935, 0.945, 0.95],
    [0, 0, 0, 0, 0.06, 0.14, 0.23, 0.31, 0.38, 0.45, 0.57, 0.66, 0.72],
    [0, 0, 0, 0.05, 0.18, 0.32, 0.42, 0.45, 0.5, 0.56, 0.66, 0.72, 0.76],
    [0, 0, 0.05, 0.22, 0.38, 0.52, 0.64, 0.73, 0.8, 0.85, 0.9, 0.92, 0.93],
    [0, 0, 0.005, 0.08, 0.2, 0.33, 0.46, 0.58, 0.68, 0.76, 0.85, 0.89, 0.91],
    [0, 0, 0.03, 0.18, 0.33, 0.46, 0.57, 0.66, 0.73, 0.78, 0.84, 0.875, 0.895],
    [0, 0, 0.01, 0.1, 0.22, 0.35, 0.48, 0.6, 0.7, 0.77, 0.86, 0.9, 0.92],
    [0, 0, 0.08, 0.28, 0.44, 0.58, 0.69, 0.77, 0.83, 0.87, 0.91, 0.93, 0.94],
    [0, 0, 0, 0.05, 0.15, 0.27, 0.4, 0.52, 0.62, 0.71, 0.82, 0.87, 0.9],
    [0, 0, 0.15, 0.4, 0.58, 0.71, 0.8, 0.86, 0.89, 0.91, 0.935, 0.945, 0.95],
    [0, 0, 0, 0.02, 0.09, 0.18, 0.29, 0.4, 0.5, 0.59, 0.72, 0.8, 0.85],
    [0, 0, 0.02, 0.16, 0.31, 0.45, 0.57, 0.67, 0.75, 0.81, 0.87, 0.9, 0.92],
    [0, 0, 0.005, 0.07, 0.18, 0.31, 0.44, 0.56, 0.66, 0.74, 0.84, 0.88, 0.905],
    [0, 0, 0.06, 0.25, 0.41, 0.55, 0.67, 0.76, 0.82, 0.86, 0.905, 0.925, 0.935],
]

P2_WBHP_RED = [0, 180, 188, 170, 138, 121, 115, 115, 116, 117, 118, 119, 119]
P2_WBHP_BLUE = [
    [0, 182, 192, 176, 146, 128, 121, 120, 121, 122, 123, 124, 124],
    [0, 178, 184, 164, 132, 116, 110, 110, 111, 112, 113, 114, 114],
    [0, 184, 196, 182, 152, 134, 127, 126, 127, 128, 129, 130, 130],
    [0, 180, 190, 168, 136, 119, 113, 112, 113, 114, 115, 116, 116],
]
P2_WBHP_GREEN = [
    [0, 200, 215, 221, 205, 190, 183, 182, 182, 182, 182, 182, 182],
    [0, 190, 200, 190, 165, 150, 145, 144, 144, 144, 144, 144, 144],
    [0, 185, 180, 150, 118, 104, 98, 96, 95, 95, 95, 95, 95],
    [0, 195, 205, 200, 180, 165, 158, 156, 156, 156, 156, 156, 156],
    [0, 188, 195, 180, 150, 134, 128, 127, 127, 127, 127, 127, 127],
    [0, 192, 198, 185, 158, 140, 134, 133, 133, 133, 133, 133, 133],
    [0, 182, 186, 165, 128, 110, 104, 103, 103, 103, 103, 103, 103],
    [0, 198, 210, 205, 185, 170, 164, 162, 162, 162, 162, 162, 162],
    [0, 186, 192, 172, 142, 126, 121, 120, 120, 120, 120, 120, 120],
    [0, 194, 202, 195, 172, 155, 148, 146, 146, 146, 146, 146, 146],
    [0, 196, 208, 210, 192, 176, 170, 168, 168, 168, 168, 168, 168],
    [0, 184, 188, 170, 140, 124, 118, 117, 117, 117, 117, 117, 117],
    [0, 190, 196, 186, 160, 144, 138, 137, 137, 137, 137, 137, 137],
    [0, 186, 184, 160, 124, 106, 100, 99, 99, 99, 99, 99, 99],
    [0, 193, 200, 190, 168, 151, 145, 143, 143, 143, 143, 143, 143],
]

# tick labels
TIME_TICKS_FIELD = [2010.0]
TIME_TEXT_FIELD = ["Jan10"]
TIME_TICKS_WELL = [2007.5, 2010.0]
TIME_TEXT_WELL = ["Jul07", "Jan10"]

CAPTIONS = ["(a) FIELD", "(b) INJ", "(c) PROD1", "(d) PROD2"]

# ---------------- layout specification (reference pixels) ----------------
PANELS = [
    # FIELD
    dict(label="FOPR", title=None, xs=(1089, 1178), ys=(92, 229), vmax=4000, vt=[0, 2000, 4000], red=FOPR_RED, blue=FOPR_BLUE, green=FOPR_GREEN, lab=(1123, 22), exp=None, field=True),
    dict(label="FOPT", title=None, xs=(1089, 1178), ys=(322, 459), vmax=10, vt=[0, 5, 10], red=FOPT_RED, blue=FOPT_BLUE, green=FOPT_GREEN, lab=(1123, 274), exp=("6", 1196, 344), field=True),
    dict(label="FWPR", title=None, xs=(1089, 1178), ys=(552, 689), vmax=4000, vt=[0, 2000, 4000], red=FWPR_RED, blue=FWPR_BLUE, green=FWPR_GREEN, lab=(1123, 483), exp=None, field=True),
    dict(label="FWPT", title=None, xs=(905, 993), ys=(92, 229), vmax=10, vt=[0, 5, 10], red=FWPT_RED, blue=FWPT_BLUE, green=FWPT_GREEN, lab=(938, 43), exp=("6", 1011, 114), field=True),
    dict(label="FWCT", title=None, xs=(905, 993), ys=(322, 459), vmax=1, vt=[0, 0.5, 1], red=FWCT_RED, blue=FWCT_BLUE, green=FWCT_GREEN, lab=(938, 268), exp=None, field=True),
    dict(label="FWIT", title=None, xs=(905, 993), ys=(552, 689), vmax=2, vt=[0, 1, 2], red=FWIT_RED, blue=None, green=None, lab=(938, 515), exp=("7", 1011, 574), field=True),
    dict(label="FWIR", title=None, xs=(720, 810), ys=(92, 229), vmax=4000, vt=[0, 2000, 4000], red=FWIR_RED, blue=None, green=None, lab=(753, 22), exp=None, field=True),
    # INJ
    dict(label="WWIR", title="INJ", xs=(893, 978), ys=(830, 1088), vmax=4000, vt=[0, 2000, 4000], red=INJ_WWIR_RED, blue=None, green=None, lab=(925, 763), exp=None, field=False),
    dict(label="WWIT", title="INJ", xs=(893, 978), ys=(1175, 1433), vmax=2, vt=[0, 1, 2], red=INJ_WWIT_RED, blue=None, green=None, lab=(925, 1138), exp=("7", 998, 1196), field=False),
    dict(label="WBHP", title="INJ", xs=(717, 804), ys=(830, 1088), vmax=400, vt=[0, 200, 400], red=INJ_WBHP_RED, blue=INJ_WBHP_BLUE, green=INJ_WBHP_GREEN, lab=(750, 773), exp=None, field=False),
    # PROD1
    dict(label="WOPR", title="PROD1", xs=(459, 545), ys=(88, 346), vmax=2000, vt=[0, 1000, 2000], red=P1_WOPR_RED, blue=P1_WOPR_BLUE, green=P1_WOPR_GREEN, lab=(491, 20), exp=None, field=False),
    dict(label="WOPT", title="PROD1", xs=(459, 545), ys=(433, 691), vmax=4, vt=[0, 2, 4], red=P1_WOPT_RED, blue=P1_WOPT_BLUE, green=P1_WOPT_GREEN, lab=(491, 396), exp=("6", 561, 455), field=False),
    dict(label="WWPR", title="PROD1", xs=(283, 368), ys=(88, 346), vmax=2000, vt=[0, 1000, 2000], red=P1_WWPR_RED, blue=P1_WWPR_BLUE, green=P1_WWPR_GREEN, lab=(315, 20), exp=None, field=False),
    dict(label="WWPT", title="PROD1", xs=(283, 368), ys=(433, 691), vmax=5, vt=[0, 5], red=P1_WWPT_RED, blue=P1_WWPT_BLUE, green=P1_WWPT_GREEN, lab=(315, 396), exp=("6", 386, 455), field=False),
    dict(label="WWCT", title="PROD1", xs=(108, 193), ys=(88, 346), vmax=1, vt=[0, 0.5, 1], red=P1_WWCT_RED, blue=P1_WWCT_BLUE, green=P1_WWCT_GREEN, lab=(140, 37), exp=None, field=False),
    dict(label="WBHP", title="PROD1", xs=(108, 193), ys=(433, 691), vmax=400, vt=[0, 200, 400], red=P1_WBHP_RED, blue=P1_WBHP_BLUE, green=P1_WBHP_GREEN, lab=(140, 375), exp=None, field=False),
    # PROD2
    dict(label="WOPR", title="PROD2", xs=(459, 545), ys=(830, 1088), vmax=2000, vt=[0, 1000, 2000], red=P2_WOPR_RED, blue=P2_WOPR_BLUE, green=P2_WOPR_GREEN, lab=(491, 763), exp=None, field=False),
    dict(label="WOPT", title="PROD2", xs=(459, 545), ys=(1175, 1433), vmax=4, vt=[0, 2, 4], red=P2_WOPT_RED, blue=P2_WOPT_BLUE, green=P2_WOPT_GREEN, lab=(491, 1138), exp=("6", 561, 1197), field=False),
    dict(label="WWPR", title="PROD2", xs=(283, 368), ys=(830, 1088), vmax=2000, vt=[0, 1000, 2000], red=P2_WWPR_RED, blue=P2_WWPR_BLUE, green=P2_WWPR_GREEN, lab=(315, 763), exp=None, field=False),
    dict(label="WWPT", title="PROD2", xs=(283, 368), ys=(1175, 1433), vmax=4, vt=[0, 2, 4], red=P2_WWPT_RED, blue=P2_WWPT_BLUE, green=P2_WWPT_GREEN, lab=(315, 1138), exp=("6", 386, 1197), field=False),
    dict(label="WWCT", title="PROD2", xs=(108, 193), ys=(830, 1088), vmax=1, vt=[0, 0.5, 1], red=P2_WWCT_RED, blue=P2_WWCT_BLUE, green=P2_WWCT_GREEN, lab=(140, 779), exp=None, field=False),
    dict(label="WBHP", title="PROD2", xs=(108, 193), ys=(1175, 1433), vmax=400, vt=[0, 200, 400], red=P2_WBHP_RED, blue=P2_WBHP_BLUE, green=P2_WBHP_GREEN, lab=(140, 1117), exp=None, field=False),
]

CAPTION_POS = [(629, 355), (629, 1096), (18, 354), (18, 1098)]

SANS = "Liberation Sans, Arial, Helvetica, sans-serif"
SERIF = "Liberation Serif, Times New Roman, serif"
TICK_FONT = dict(family=SANS, size=18.5, color="black")


def px(x):
    return (x - OFF) / FW


def py(y):
    return 1 - (y - OFF) / FH


def join(curves):
    xs, ys = [], []
    for c in curves:
        xs += list(c) + [None]
        ys += list(T) + [None]
    return xs, ys


def fmt(v):
    return "%g" % v


fig = go.Figure()
annotations = []
layout = {}

for i, p in enumerate(PANELS, start=1):
    xa = "x" if i == 1 else "x%d" % i
    ya = "y" if i == 1 else "y%d" % i
    if p["green"]:
        gx, gy = join(p["green"])
        fig.add_trace(go.Scatter(x=gx, y=gy, mode="lines", line=dict(color="#00FF00", width=1),
                                 xaxis=xa, yaxis=ya, hoverinfo="skip"))
    if p["blue"]:
        bx, by = join(p["blue"])
        fig.add_trace(go.Scatter(x=bx, y=by, mode="lines", line=dict(color="#0000FF", width=1),
                                 xaxis=xa, yaxis=ya, hoverinfo="skip"))
    fig.add_trace(go.Scatter(x=p["red"], y=T, mode="lines", line=dict(color="#FF0000", width=2),
                             xaxis=xa, yaxis=ya, hoverinfo="skip"))

    x0, x1 = p["xs"]
    yt, yb = p["ys"]
    tticks = TIME_TICKS_FIELD if p["field"] else TIME_TICKS_WELL
    ttext = TIME_TEXT_FIELD if p["field"] else TIME_TEXT_WELL
    layout["xaxis" if i == 1 else "xaxis%d" % i] = dict(
        domain=[px(x0), px(x1)], anchor=ya, side="top", range=[0, p["vmax"]],
        tickmode="array", tickvals=p["vt"], ticktext=[fmt(v) for v in p["vt"]],
        tickangle=90, ticks="inside", ticklen=4, tickcolor="black",
        showline=True, linecolor="black", linewidth=1, mirror=False,
        showgrid=False, zeroline=False, tickfont=TICK_FONT, fixedrange=True,
    )
    layout["yaxis" if i == 1 else "yaxis%d" % i] = dict(
        domain=[max(0.0, py(yb)), py(yt)], anchor=xa, side="left", range=[2012.0, 2005.0],
        tickmode="array", tickvals=tticks, ticktext=ttext,
        tickangle=90, ticks="inside", ticklen=4, tickcolor="black",
        showline=True, linecolor="black", linewidth=1, mirror=False,
        showgrid=False, zeroline=False, tickfont=TICK_FONT, fixedrange=True,
        ticklabelstandoff=3,
    )
    lx, ly = p["lab"]
    annotations.append(dict(text=p["label"], x=px(lx), y=py(ly), xref="paper", yref="paper",
                            showarrow=False, xanchor="center", yanchor="middle",
                            font=dict(family=SANS, size=19, color="black")))
    if p["title"]:
        annotations.append(dict(text=p["title"], x=px(x1 + 20), y=py((yt + yb) / 2 - 6),
                                xref="paper", yref="paper", showarrow=False, textangle=90,
                                xanchor="center", yanchor="middle",
                                font=dict(family=SANS, size=19, color="black")))
    if p["exp"]:
        e, ex, ey = p["exp"]
        annotations.append(dict(text="x 10<sup>%s</sup>" % e, x=px(ex), y=py(ey),
                                xref="paper", yref="paper", showarrow=False, textangle=90,
                                xanchor="center", yanchor="middle",
                                font=dict(family=SANS, size=17, color="black")))

for cap, (cx, cy) in zip(CAPTIONS, CAPTION_POS):
    annotations.append(dict(text=cap, x=px(cx), y=py(cy), xref="paper", yref="paper",
                            showarrow=False, textangle=90, xanchor="center", yanchor="middle",
                            font=dict(family=SERIF, size=24, color="black")))

fig.update_layout(
    width=FW, height=FH, margin=dict(l=0, r=0, t=0, b=0),
    paper_bgcolor="white", plot_bgcolor="white", showlegend=False,
    annotations=annotations, **layout,
)

fig.write_html(
    "out.html",
    config={"displayModeBar": False, "staticPlot": True},
    post_script="document.body.style.margin='0';document.body.style.overflow='hidden';",
)
